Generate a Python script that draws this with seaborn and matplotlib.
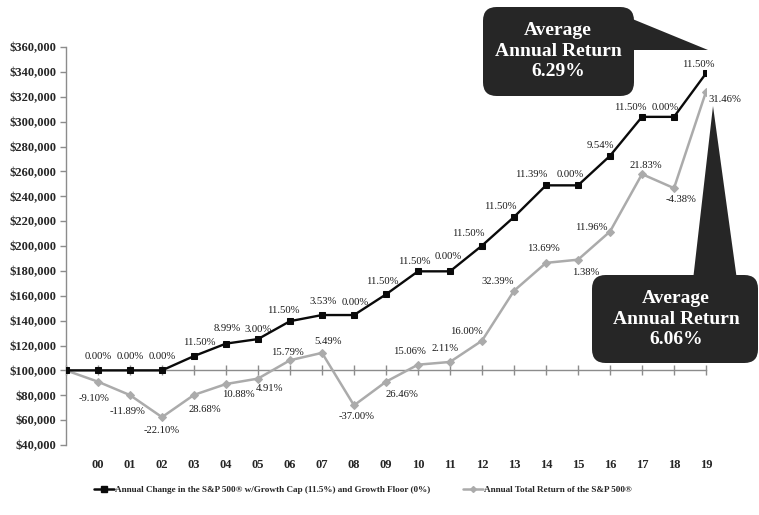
import numpy as np
import pandas as pd
import matplotlib
matplotlib.use("Agg")
import matplotlib.pyplot as plt
import seaborn as sns
from matplotlib.patches import FancyBboxPatch, Polygon
from matplotlib.lines import Line2D

# Year labels (first slot is the starting value at the origin)
years = ["", "00", "01", "02", "03", "04", "05", "06", "07", "08", "09",
         "10", "11", "12", "13", "14", "15", "16", "17", "18", "19"]

# Account value with an 11.5% growth cap and a 0% floor
capped_values = [100000, 100000, 100000, 100000, 111500, 121524, 125170,
                 139564, 144491, 144491, 161107, 179634, 179634, 200292,
                 223326, 248763, 248763, 272495, 303832, 303832, 338773]
capped_labels = ["", "0.00%", "0.00%", "0.00%", "11.50%", "8.99%", "3.00%",
                 "11.50%", "3.53%", "0.00%", "11.50%", "11.50%", "0.00%",
                 "11.50%", "11.50%", "11.39%", "0.00%", "9.54%", "11.50%",
                 "0.00%", "11.50%"]

# Value invested at the S&P 500 total return
sp_values = [100000, 90900, 80092, 62392, 80286, 89021, 93392, 108139,
             114076, 71868, 90884, 104571, 106778, 123862, 163981, 186430,
             189003, 211608, 257802, 246510, 324062]
sp_labels = ["", "-9.10%", "-11.89%", "-22.10%", "28.68%", "10.88%", "4.91%",
             "15.79%", "5.49%", "-37.00%", "26.46%", "15.06%", "2.11%",
             "16.00%", "32.39%", "13.69%", "1.38%", "11.96%", "21.83%",
             "-4.38%", "31.46%"]

y_ticks = list(range(40000, 360001, 20000))

capped_avg = "Average\nAnnual Return\n6.29%"
sp_avg = "Average\nAnnual Return\n6.06%"

legend_names = ["Annual Change in the S&P 500® w/Growth Cap (11.5%) and Growth Floor (0%)",
                "Annual Total Return of the S&P 500®"]

sns.set_style("white")
plt.rcParams["font.family"] = ["Liberation Serif", "DejaVu Serif"]

W, H = 759, 515
fig = plt.figure(figsize=(W / 100, H / 100), dpi=100)
ax = fig.add_axes([66 / W, 1 - 445 / H, 640 / W, 398 / H])

BLACK = "#0a0a0a"
GRAY = "#ababab"
x = np.arange(len(years))

sns.lineplot(x=x, y=sp_values, ax=ax, color=GRAY, linewidth=1.8,
             marker="D", markersize=4, markeredgecolor=GRAY, sort=False,
             legend=False, zorder=3)
sns.lineplot(x=x, y=capped_values, ax=ax, color=BLACK, linewidth=1.7,
             marker="s", markersize=5, markeredgecolor=BLACK, sort=False,
             legend=False, zorder=4)

ax.set_xlim(0, len(years) - 1)
ax.set_ylim(40000, 360000)
ax.set_yticks(y_ticks)
ax.set_yticklabels([f"${v:,.0f}" for v in y_ticks], fontsize=9, fontweight="bold")

AX_COL = "#8c8c8c"
for s in ["top", "right"]:
    ax.spines[s].set_visible(False)
ax.spines["left"].set_color(AX_COL)
ax.spines["left"].set_linewidth(1.0)
ax.spines["bottom"].set_position(("data", 100000))
ax.spines["bottom"].set_color(AX_COL)
ax.spines["bottom"].set_linewidth(1.0)
ax.tick_params(axis="y", left=True, direction="out", length=4, width=1,
               color=AX_COL, pad=3)
ax.set_xticks(x)
ax.tick_params(axis="x", bottom=True, direction="inout", length=7, width=1,
               color=AX_COL, labelbottom=False)

# Year labels along the bottom edge
sec = ax.secondary_xaxis(0)
sec.set_xticks(x[1:])
sec.set_xticklabels(years[1:], fontsize=9, fontweight="bold")
sec.spines["bottom"].set_visible(False)
sec.tick_params(length=0, pad=10)

# Data labels
cap_off = {1: (0, 14), 2: (0, 14), 3: (0, 14), 4: (5, 14), 5: (1, 15),
           6: (0, 10), 7: (-7, 11), 8: (1, 14), 9: (1, 13), 10: (-4, 13),
           11: (-4, 10), 12: (-2, 15), 13: (-14, 12), 14: (-14, 10),
           15: (-15, 11), 16: (-8, 11), 17: (-10, 10), 18: (-12, 9),
           19: (-9, 9), 20: (-8, 9)}
sp_off = {1: (-4, -17), 2: (-2, -16), 3: (0, -13), 4: (11, -15),
          5: (12, -10), 6: (12, -10), 7: (-3, 8), 8: (6, 11), 9: (3, -11),
          10: (16, -13), 11: (-9, 13), 12: (-5, 13), 13: (-16, 9),
          14: (-16, 9), 15: (-3, 14), 16: (8, -13), 17: (-19, 4),
          18: (4, 9), 19: (7, -11), 20: (19, -8)}

for i in range(1, len(years)):
    dx, dy = cap_off[i]
    ax.annotate(capped_labels[i], (x[i], capped_values[i]),
                xytext=(dx, dy), textcoords="offset pixels",
                ha="center", va="center", fontsize=7.7, color="#1a1a1a",
                zorder=6)
    dx, dy = sp_off[i]
    ax.annotate(sp_labels[i], (x[i], sp_values[i]),
                xytext=(dx, dy), textcoords="offset pixels",
                ha="center", va="center", fontsize=7.7, color="#1a1a1a",
                zorder=6)


def px(xp, yp):
    return (xp / W, 1 - yp / H)


BOX = "#262626"


def callout(x0, y0, x1, y1, tri, text, cx, cy):
    tri_pts = [px(*p) for p in tri]
    fig.patches.append(Polygon(tri_pts, closed=True, transform=fig.transFigure,
                               facecolor=BOX, edgecolor="none", zorder=8))
    bx, by = px(x0, y1)
    fig.patches.append(FancyBboxPatch((bx, by), (x1 - x0) / W, (y1 - y0) / H,
                                      boxstyle="round,pad=0,rounding_size=0.018",
                                      transform=fig.transFigure,
                                      facecolor=BOX, edgecolor="none", zorder=8,
                                      mutation_aspect=W / H))
    tx, ty = px(cx, cy)
    fig.text(tx, ty, text, ha="center", va="center", color="white",
             fontsize=14, fontweight="bold", linespacing=1.25, zorder=9)


callout(483, 7, 634, 96, [(630, 18), (630, 50), (708, 50)], capped_avg, 558, 51)
callout(592, 275, 758, 363, [(693, 280), (737, 280), (713, 106)], sp_avg, 676, 319)

# Legend
handles = [Line2D([], [], color=BLACK, marker="s", markersize=4, linewidth=1.8),
           Line2D([], [], color=GRAY, marker="D", markersize=3, linewidth=1.8)]
fig.legend(handles, legend_names, loc="center", ncol=2,
           bbox_to_anchor=(0.478, 1 - 490 / H), frameon=False,
           prop={"size": 6.6, "weight": "bold"}, handlelength=2.2,
           handletextpad=0.1, columnspacing=3.5, borderpad=0)

fig.savefig("out.png", dpi=100)
